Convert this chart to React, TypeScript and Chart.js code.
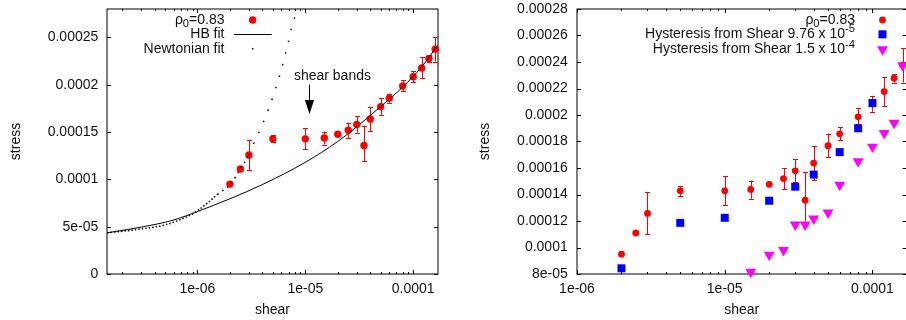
import React, { useEffect, useRef } from 'react';
import { Chart, registerables } from 'chart.js';

Chart.register(...registerables);

const FONT_FAMILY = '"Liberation Sans", Arial, Helvetica, sans-serif';
const FONT_SIZE = 14;
const TEXT_COLOR = '#111';

// ---------- data ----------
const shear = [2e-6, 2.5e-6, 3e-6, 5e-6, 1e-5, 1.5e-5, 2e-5, 2.5e-5, 3e-5, 3.5e-5, 4e-5, 5e-5, 6e-5, 8e-5, 1e-4, 1.2e-4, 1.4e-4, 1.6e-4];
const stress = [9.5e-5, 1.11e-4, 1.257e-4, 1.428e-4, 1.428e-4, 1.438e-4, 1.477e-4, 1.52e-4, 1.579e-4, 1.357e-4, 1.637e-4, 1.768e-4, 1.858e-4, 1.986e-4, 2.085e-4, 2.177e-4, 2.278e-4, 2.376e-4];
const stressErrLow = [9.5e-5, 1.11e-4, 1.1e-4, 1.39e-4, 1.318e-4, 1.368e-4, 1.465e-4, 1.438e-4, 1.495e-4, 1.195e-4, 1.508e-4, 1.68e-4, 1.81e-4, 1.932e-4, 2.025e-4, 2.067e-4, 2.245e-4, 2.245e-4];
const stressErrHigh = [9.5e-5, 1.11e-4, 1.42e-4, 1.465e-4, 1.54e-4, 1.505e-4, 1.49e-4, 1.598e-4, 1.668e-4, 1.568e-4, 1.766e-4, 1.86e-4, 1.906e-4, 2.05e-4, 2.145e-4, 2.288e-4, 2.31e-4, 2.505e-4];

const hbFitShear = [1.45e-7, 3e-7, 6e-7, 1e-6, 2e-6, 4e-6, 1e-5, 2e-5, 3e-5, 5e-5, 8e-5, 1.2e-4, 1.7e-4];
const hbFitStress = [4.35e-5, 4.95e-5, 5.7e-5, 6.6e-5, 7.95e-5, 9.45e-5, 1.18e-4, 1.4e-4, 1.555e-4, 1.77e-4, 1.975e-4, 2.19e-4, 2.42e-4];

const newtonFitShear = [1.45e-7, 2.6e-7, 5.3e-7, 8.7e-7, 1e-6, 1.24e-6, 1.53e-6, 2.03e-6, 2.5e-6, 3e-6, 3.4e-6, 3.92e-6, 4.54e-6, 5.23e-6, 6.04e-6, 6.96e-6, 7.47e-6, 8.3e-6, 8.8e-6];
const newtonFitStress = [4.35e-5, 4.67e-5, 5.27e-5, 6.27e-5, 6.69e-5, 7.5e-5, 8.4e-5, 9.52e-5, 1.11e-4, 1.257e-4, 1.403e-4, 1.558e-4, 1.735e-4, 1.937e-4, 2.174e-4, 2.45e-4, 2.604e-4, 2.777e-4, 2.9e-4];

const hyst1Shear = [2e-6, 5e-6, 1e-5, 2e-5, 3e-5, 4e-5, 6e-5, 8e-5, 1e-4];
const hyst1Stress = [8.43e-5, 1.186e-4, 1.224e-4, 1.353e-4, 1.459e-4, 1.55e-4, 1.72e-4, 1.9e-4, 2.09e-4];

const hyst2Shear = [1.5e-5, 2e-5, 2.5e-5, 3e-5, 3.5e-5, 4e-5, 5e-5, 6e-5, 8e-5, 1e-4, 1.2e-4, 1.4e-4, 1.6e-4];
const hyst2Stress = [8.15e-5, 9.45e-5, 9.8e-5, 1.172e-4, 1.172e-4, 1.218e-4, 1.263e-4, 1.473e-4, 1.65e-4, 1.76e-4, 1.863e-4, 1.94e-4, 2.374e-4];

const xTicks = [1e-6, 1e-5, 1e-4];
const xTickLabels = ['1e-06', '1e-05', '0.0001'];
const minorMultipliers = [2, 3, 4, 5, 6, 7, 8, 9];

const leftYTicks = [0, 5e-5, 1e-4, 1.5e-4, 2e-4, 2.5e-4];
const leftYTickLabels = ['0', '5e-05', '0.0001', '0.00015', '0.0002', '0.00025'];
const rightYTicks = [8e-5, 1e-4, 1.2e-4, 1.4e-4, 1.6e-4, 1.8e-4, 2e-4, 2.2e-4, 2.4e-4, 2.6e-4, 2.8e-4];
const rightYTickLabels = ['8e-05', '0.0001', '0.00012', '0.00014', '0.00016', '0.00018', '0.0002', '0.00022', '0.00024', '0.00026', '0.00028'];

const annotationText = 'shear bands';
const annotationTextPos = [7.84e-6, 2.09e-4];
const annotationArrow = [1.09e-5, 2.0e-4, 1.69e-4];

// ---------- helpers ----------
const font = { family: FONT_FAMILY, size: FONT_SIZE };

type Seg = { t: string; sub?: boolean; sup?: boolean };

function drawRich(ctx: CanvasRenderingContext2D, segs: Seg[], rightX: number, y: number) {
  const small = FONT_SIZE * 0.8;
  const widths = segs.map((s) => {
    ctx.font = `${s.sub || s.sup ? small : FONT_SIZE}px ${FONT_FAMILY}`;
    return ctx.measureText(s.t).width;
  });
  const total = widths.reduce((a, b) => a + b, 0);
  let x = rightX - total;
  ctx.textAlign = 'left';
  ctx.textBaseline = 'middle';
  ctx.fillStyle = TEXT_COLOR;
  segs.forEach((s, i) => {
    ctx.font = `${s.sub || s.sup ? small : FONT_SIZE}px ${FONT_FAMILY}`;
    const dy = s.sub ? 4 : s.sup ? -5 : 0;
    ctx.fillText(s.t, x, y + dy);
    x += widths[i];
  });
}

function framePlugin() {
  return {
    id: 'gnuFrame',
    beforeDatasetsDraw(chart: any) {
      const { ctx, chartArea: a, scales } = chart;
      const xs = scales.x;
      const ys = scales.y;
      ctx.save();
      ctx.strokeStyle = '#000';
      ctx.lineWidth = 1;
      ctx.strokeRect(a.left, a.top, a.right - a.left, a.bottom - a.top);
      ctx.beginPath();
      ys.ticks.forEach((t: any) => {
        const py = Math.round(ys.getPixelForValue(t.value)) + 0.5;
        ctx.moveTo(a.left, py);
        ctx.lineTo(a.left + 4, py);
        ctx.moveTo(a.right, py);
        ctx.lineTo(a.right - 4, py);
      });
      const d0 = Math.floor(Math.log10(xs.min));
      const d1 = Math.ceil(Math.log10(xs.max));
      for (let d = d0; d <= d1; d++) {
        const base = Math.pow(10, d);
        const vals: [number, number][] = [[base, 4]];
        minorMultipliers.forEach((m) => vals.push([m * base, 2]));
        vals.forEach(([v, len]) => {
          if (v < xs.min || v > xs.max) return;
          const px = Math.round(xs.getPixelForValue(v)) + 0.5;
          ctx.moveTo(px, a.bottom);
          ctx.lineTo(px, a.bottom - len);
          ctx.moveTo(px, a.top);
          ctx.lineTo(px, a.top + len);
        });
      }
      ctx.stroke();
      ctx.restore();
    },
  };
}

function errorBarPlugin() {
  return {
    id: 'errBars',
    beforeDatasetsDraw(chart: any) {
      const { ctx, scales } = chart;
      const xs = scales.x;
      const ys = scales.y;
      ctx.save();
      ctx.strokeStyle = '#ff0000';
      ctx.lineWidth = 1;
      ctx.beginPath();
      shear.forEach((sx, i) => {
        if (stressErrHigh[i] - stressErrLow[i] <= 0) return;
        const px = Math.round(xs.getPixelForValue(sx)) + 0.5;
        const y0 = ys.getPixelForValue(stressErrLow[i]);
        const y1 = ys.getPixelForValue(stressErrHigh[i]);
        ctx.moveTo(px, y0);
        ctx.lineTo(px, y1);
        ctx.moveTo(px - 2.5, Math.round(y0) + 0.5);
        ctx.lineTo(px + 2.5, Math.round(y0) + 0.5);
        ctx.moveTo(px - 2.5, Math.round(y1) + 0.5);
        ctx.lineTo(px + 2.5, Math.round(y1) + 0.5);
      });
      ctx.stroke();
      ctx.restore();
    },
  };
}

type LegendItem = { segs: Seg[]; kind: 'circle' | 'line' | 'dot' | 'square' | 'triangle'; color: string };

function legendPlugin(items: LegendItem[], textRight: number, symbolX: number, rows: number[], circleR: number) {
  return {
    id: 'gnuLegend',
    afterDraw(chart: any) {
      const { ctx } = chart;
      ctx.save();
      items.forEach((it, i) => {
        const y = rows[i];
        drawRich(ctx, it.segs, textRight, y);
        ctx.fillStyle = it.color;
        ctx.strokeStyle = it.color;
        if (it.kind === 'circle') {
          ctx.beginPath();
          ctx.arc(symbolX, y, circleR, 0, Math.PI * 2);
          ctx.fill();
        } else if (it.kind === 'line') {
          ctx.lineWidth = 1;
          ctx.beginPath();
          ctx.moveTo(symbolX - 18.5, y + 0.5);
          ctx.lineTo(symbolX + 19, y + 0.5);
          ctx.stroke();
        } else if (it.kind === 'dot') {
          ctx.fillRect(symbolX - 0.75, y - 0.75, 1.5, 1.5);
        } else if (it.kind === 'square') {
          ctx.fillRect(symbolX - 4, y - 4, 8, 8);
        } else if (it.kind === 'triangle') {
          const r = 6.3;
          ctx.beginPath();
          ctx.moveTo(symbolX, y + r);
          ctx.lineTo(symbolX - r * 0.866, y - r / 2);
          ctx.lineTo(symbolX + r * 0.866, y - r / 2);
          ctx.closePath();
          ctx.fill();
        }
      });
      ctx.restore();
    },
  };
}

function annotationPlugin() {
  return {
    id: 'shearBands',
    afterDatasetsDraw(chart: any) {
      const { ctx, scales } = chart;
      const xs = scales.x;
      const ys = scales.y;
      ctx.save();
      ctx.font = `${FONT_SIZE}px ${FONT_FAMILY}`;
      ctx.fillStyle = TEXT_COLOR;
      ctx.textAlign = 'left';
      ctx.textBaseline = 'middle';
      ctx.fillText(annotationText, xs.getPixelForValue(annotationTextPos[0]), ys.getPixelForValue(annotationTextPos[1]));
      const ax = Math.round(xs.getPixelForValue(annotationArrow[0])) + 0.5;
      const yTail = ys.getPixelForValue(annotationArrow[1]);
      const yTip = ys.getPixelForValue(annotationArrow[2]);
      ctx.strokeStyle = '#000';
      ctx.fillStyle = '#000';
      ctx.lineWidth = 1;
      ctx.beginPath();
      ctx.moveTo(ax, yTail);
      ctx.lineTo(ax, yTip - 13);
      ctx.stroke();
      ctx.beginPath();
      ctx.moveTo(ax, yTip);
      ctx.lineTo(ax - 4.6, yTip - 14);
      ctx.lineTo(ax + 4.6, yTip - 14);
      ctx.closePath();
      ctx.fill();
      ctx.restore();
    },
  };
}

function pts(xs: number[], ys: number[]) {
  return xs.map((x, i) => ({ x, y: ys[i] }));
}

const X_AXIS_HEIGHT = 46;

function scalesConfig(opts: {
  xMin: number; xMax: number; yMin: number; yMax: number;
  yTicks: number[]; yTickLabels: string[];
  yWidth: number; yTitlePad: number; yTickPad: number;
}) {
  return {
    x: {
      type: 'logarithmic',
      position: 'bottom',
      min: opts.xMin,
      max: opts.xMax,
      afterBuildTicks: (s: any) => { s.ticks = xTicks.map((v) => ({ value: v })); },
      afterFit: (s: any) => {
        s.height = X_AXIS_HEIGHT;
        s.paddingLeft = 0; s.paddingRight = 0; s.paddingTop = 0; s.paddingBottom = 0;
      },
      grid: { display: false, drawTicks: false },
      border: { display: false },
      ticks: {
        font, color: TEXT_COLOR, padding: 6.3, maxRotation: 0, autoSkip: false,
        callback: (v: number) => xTickLabels[xTicks.indexOf(v)] ?? '',
      },
      title: { display: true, text: 'shear', font, color: TEXT_COLOR, padding: { top: 0, bottom: 1.6 } },
    },
    y: {
      type: 'linear',
      position: 'left',
      min: opts.yMin,
      max: opts.yMax,
      afterBuildTicks: (s: any) => { s.ticks = opts.yTicks.map((v) => ({ value: v })); },
      afterFit: (s: any) => {
        s.width = opts.yWidth;
        s.paddingLeft = 0; s.paddingRight = 0; s.paddingTop = 0; s.paddingBottom = 0;
      },
      grid: { display: false, drawTicks: false },
      border: { display: false },
      ticks: {
        font, color: TEXT_COLOR, padding: opts.yTickPad, autoSkip: false,
        callback: (v: number) => opts.yTickLabels[opts.yTicks.indexOf(v)] ?? '',
      },
      title: { display: true, text: 'stress', font, color: TEXT_COLOR, padding: { top: opts.yTitlePad, bottom: 0 } },
    },
  };
}

export default function App() {
  const leftRef = useRef<HTMLCanvasElement>(null);
  const rightRef = useRef<HTMLCanvasElement>(null);

  useEffect(() => {
    const left = new Chart(leftRef.current as HTMLCanvasElement, {
      type: 'scatter',
      data: {
        datasets: [
          {
            label: 'Newtonian fit',
            data: pts(newtonFitShear, newtonFitStress),
            showLine: true,
            pointRadius: 0,
            borderColor: '#000',
            borderWidth: 1.5,
            cubicInterpolationMode: 'monotone',
            segment: {
              borderDash: (c: any) => (c.p1.parsed.y < 8.5e-5 ? [1.5, 2] : c.p1.parsed.y < 1.3e-4 ? [1.5, 4.5] : [1.5, 10.5]),
            },
            order: 1,
          } as any,
          {
            label: 'HB fit',
            data: pts(hbFitShear, hbFitStress),
            showLine: true,
            pointRadius: 0,
            borderColor: '#000',
            borderWidth: 1,
            cubicInterpolationMode: 'monotone',
            order: 2,
          } as any,
          {
            label: 'ρ0=0.83',
            data: pts(shear, stress),
            pointRadius: 3.7,
            pointBackgroundColor: '#ff0000',
            pointBorderWidth: 0,
            clip: false,
            order: 3,
          } as any,
        ],
      },
      options: {
        animation: false,
        responsive: false,
        events: [],
        layout: { padding: { left: 0, top: 9, right: 15, bottom: 0 } },
        plugins: { legend: { display: false }, tooltip: { enabled: false } },
        scales: scalesConfig({
          xMin: 1.45e-7, xMax: 1.7e-4, yMin: 0, yMax: 2.8e-4,
          yTicks: leftYTicks, yTickLabels: leftYTickLabels,
          yWidth: 107, yTitlePad: 7.3, yTickPad: 8.7,
        }) as any,
      },
      plugins: [
        framePlugin(),
        errorBarPlugin(),
        annotationPlugin(),
        legendPlugin(
          [
            { segs: [{ t: 'ρ' }, { t: '0', sub: true }, { t: '=0.83' }], kind: 'circle', color: '#ff0000' },
            { segs: [{ t: 'HB fit' }], kind: 'line', color: '#000' },
            { segs: [{ t: 'Newtonian fit' }], kind: 'dot', color: '#000' },
          ],
          224.5, 252.7, [20, 34, 48.7], 3.7,
        ),
      ] as any,
    });

    const right = new Chart(rightRef.current as HTMLCanvasElement, {
      type: 'scatter',
      data: {
        datasets: [
          {
            label: 'Hysteresis from Shear 1.5 x 10^-4',
            data: pts(hyst2Shear, hyst2Stress),
            pointStyle: 'triangle',
            rotation: 180,
            pointRadius: 6.3,
            pointBackgroundColor: '#ff00ff',
            pointBorderWidth: 0,
            clip: false,
            order: 1,
          } as any,
          {
            label: 'Hysteresis from Shear 9.76 x 10^-5',
            data: pts(hyst1Shear, hyst1Stress),
            pointStyle: 'rect',
            pointRadius: 5.66,
            pointBackgroundColor: '#0000ff',
            pointBorderWidth: 0,
            clip: false,
            order: 2,
          } as any,
          {
            label: 'ρ0=0.83',
            data: pts(shear, stress),
            pointRadius: 3.4,
            pointBackgroundColor: '#ff0000',
            pointBorderWidth: 0,
            clip: false,
            order: 3,
          } as any,
        ],
      },
      options: {
        animation: false,
        responsive: false,
        events: [],
        layout: { padding: { left: 0, top: 9, right: 6.5, bottom: 0 } },
        plugins: { legend: { display: false }, tooltip: { enabled: false } },
        scales: scalesConfig({
          xMin: 1e-6, xMax: 1.7e-4, yMin: 8e-5, yMax: 2.8e-4,
          yTicks: rightYTicks, yTickLabels: rightYTickLabels,
          yWidth: 124, yTitlePad: 23.9, yTickPad: 9.3,
        }) as any,
      },
      plugins: [
        framePlugin(),
        errorBarPlugin(),
        legendPlugin(
          [
            { segs: [{ t: 'ρ' }, { t: '0', sub: true }, { t: '=0.83' }], kind: 'circle', color: '#ff0000' },
            { segs: [{ t: 'Hysteresis from Shear 9.76 x 10' }, { t: '-5', sup: true }], kind: 'square', color: '#0000ff' },
            { segs: [{ t: 'Hysteresis from Shear 1.5 x 10' }, { t: '-4', sup: true }], kind: 'triangle', color: '#ff00ff' },
          ],
          402, 429.5, [20, 34.3, 49.5], 3.4,
        ),
      ] as any,
    });

    return () => {
      left.destroy();
      right.destroy();
    };
  }, []);

  return (
    <div style={{ position: 'fixed', left: 0, top: 0, width: 906, height: 320, overflow: 'hidden', background: '#fff' }}>
      <canvas ref={leftRef} width={453} height={320} style={{ position: 'absolute', left: 0, top: 0, width: 453, height: 320 }} />
      <canvas ref={rightRef} width={460} height={320} style={{ position: 'absolute', left: 453, top: 0, width: 460, height: 320 }} />
    </div>
  );
}
